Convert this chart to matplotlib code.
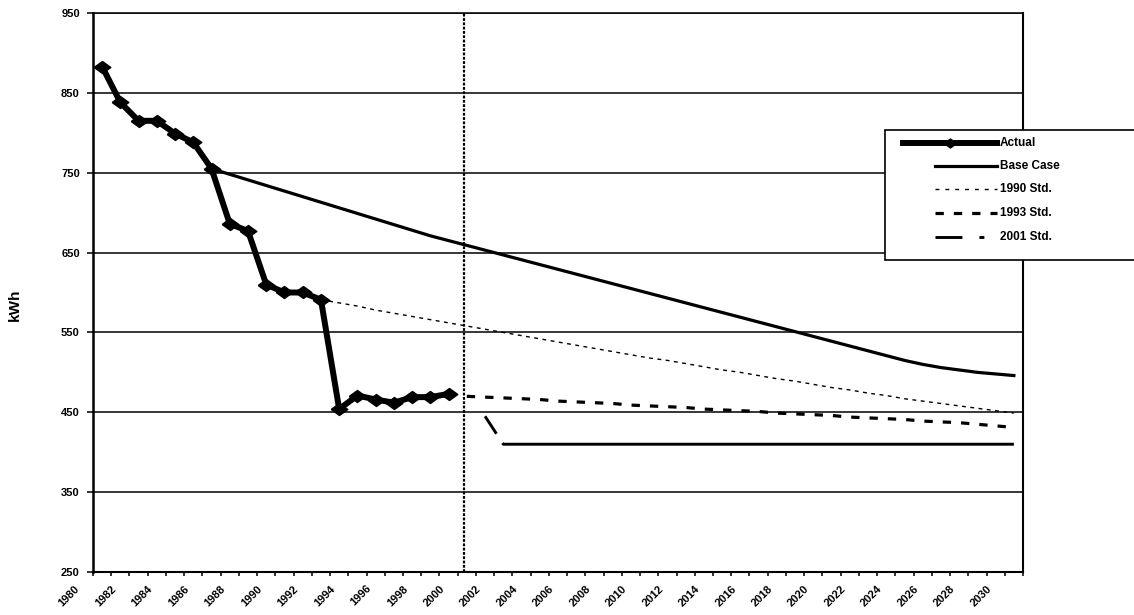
import matplotlib
matplotlib.use("Agg")
import matplotlib.pyplot as plt
from matplotlib.lines import Line2D
from matplotlib.patches import Rectangle
from matplotlib.transforms import ScaledTranslation, blended_transform_factory

plt.rcParams['font.family'] = ['Liberation Sans', 'DejaVu Sans']
plt.rcParams['font.weight'] = 'bold'
plt.rcParams['lines.scale_dashes'] = False

# ---------------- data ----------------
actual_years = list(range(1980, 2000))
actual = [883, 838, 815, 815, 799, 788, 755, 686, 677, 610,
          600, 600, 591, 454, 471, 466, 462, 469, 469, 473]

base_years = list(range(1986, 2031))
base_case = [755, 748, 741, 734, 727, 720, 713, 706, 699, 692,
             685, 678, 671, 665, 659, 653, 647, 641, 635, 629,
             623, 617, 611, 605, 599, 593, 587, 581, 575, 569,
             563, 557, 551, 545, 539, 533, 527, 521, 515, 510,
             506, 503, 500, 498, 496]

std1990_years = list(range(1992, 2031))
std1990 = [591, 587, 583, 578, 574, 570, 566, 562, 558, 554,
           550, 546, 542, 538, 534, 530, 526, 522, 518, 515,
           511, 507, 503, 500, 496, 492, 489, 485, 481, 478,
           474, 471, 467, 464, 461, 458, 455, 452, 449]

std1993_years = list(range(2000, 2031))
std1993 = [470, 469, 468, 467, 466, 464, 463, 462, 461, 459,
           458, 457, 456, 454, 453, 452, 451, 449, 448, 447,
           446, 444, 443, 442, 441, 439, 438, 437, 435, 433, 431]

std2001_years = list(range(2001, 2031))
std2001 = [445, 410, 410, 410, 410, 410, 410, 410, 410, 410,
           410, 410, 410, 410, 410, 410, 410, 410, 410, 410,
           410, 410, 410, 410, 410, 410, 410, 410, 410, 410]

divider_year = 2000
y_ticks = [250, 350, 450, 550, 650, 750, 850, 950]
x_label_years = list(range(1980, 2031, 2))
series_names = ["Actual", "Base Case", "1990 Std.", "1993 Std.", "2001 Std."]
y_title = "kWh"

# ---------------- figure ----------------
W, H = 1134, 615
fig = plt.figure(figsize=(W / 100, H / 100), dpi=100)
ax = fig.add_axes([93 / W, 1 - 572 / H, (1023 - 93) / W, (572 - 13) / H])

diamond = [(-1, 0), (0, 0.72), (1, 0), (0, -0.72), (-1, 0)]

ax.plot(base_years, base_case, color='black', lw=2.3, zorder=3)
ax.plot(std1990_years, std1990, color='black', lw=1.0, dashes=(2.8, 3.2), zorder=3)
ax.plot(std1993_years, std1993, color='black', lw=2.3, dashes=(6, 7.2), zorder=3)
ax.plot(std2001_years, std2001, color='black', lw=2.1, dashes=(15, 8, 3000, 1), zorder=3)
ax.plot(actual_years, actual, color='black', lw=4.3, marker=diamond,
        markersize=12, zorder=4)
ax.axvline(divider_year - 0.15, color='black', lw=1.6, dashes=(2, 1.1), zorder=5)

ax.set_ylim(250, 950)
ax.set_xlim(1979.5, 2030.5)
ax.set_yticks(y_ticks)
ax.set_yticklabels([str(v) for v in y_ticks], fontsize=8, fontweight='bold')
ax.yaxis.grid(True, color='black', lw=1.1)
ax.set_axisbelow(True)

ax.set_xticks([y - 0.5 for y in range(1980, 2032)])
ax.set_xticklabels([])
ax.tick_params(axis='x', direction='out', length=3, width=1.1)
ax.tick_params(axis='y', direction='out', length=4.5, width=1.1, pad=5)

for side, lw in (('left', 1.8), ('bottom', 1.5), ('top', 1.1), ('right', 1.5)):
    ax.spines[side].set_linewidth(lw)
    ax.spines[side].set_color('black')

trans = blended_transform_factory(ax.transData, ax.transAxes) + \
    ScaledTranslation(-24 / 100, -15 / 100, fig.dpi_scale_trans)
for yr in x_label_years:
    ax.text(yr, 0, str(yr), transform=trans, rotation=45, rotation_mode='anchor',
            ha='right', va='center', fontsize=8, fontweight='bold')

fig.text(15 / W, 1 - 305 / H, y_title, rotation=90, ha='center', va='center',
         fontsize=11, fontweight='bold')

# ---------------- legend (manual, matches original box that runs off the edge) ----------------
leg_l, leg_t, leg_b = 885, 130, 260
fig.patches.append(Rectangle((leg_l / W, 1 - leg_b / H), (W + 10 - leg_l) / W, (leg_b - leg_t) / H,
                             transform=fig.transFigure, facecolor='white', edgecolor='black',
                             lw=1.2, zorder=10))
rows = [143, 166, 189, 213, 237]
styles = [
    dict(color='black', lw=4.3, marker=diamond, markersize=9, markevery=[1]),
    dict(color='black', lw=2.3),
    dict(color='black', lw=1.0, dashes=(2.8, 4.3)),
    dict(color='black', lw=2.3, dashes=(6, 7.2)),
    dict(color='black', lw=2.1, dashes=(19.4, 12.2, 3.6, 50)),
]
starts = [903, 935, 935, 935, 935]
for name, row, st, x0 in zip(series_names, rows, styles, starts):
    yf = 1 - row / H
    xs = [x0 / W, (x0 + 997) / 2 / W, 997 / W]
    fig.add_artist(Line2D(xs, [yf, yf, yf], transform=fig.transFigure, zorder=11, **st))
    fig.text(1000 / W, yf, name, ha='left', va='center', fontsize=8.5,
             fontweight='bold', zorder=12)

fig.savefig("out.png", dpi=100)
